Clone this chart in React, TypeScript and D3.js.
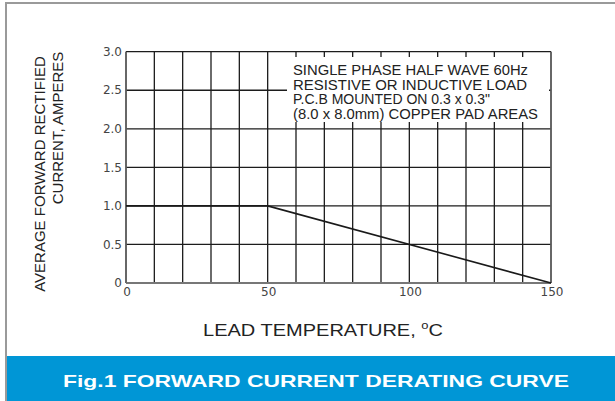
import React from 'react';
import * as d3 from 'd3';

const W = 615;
const H = 401;

// derating curve, lead temperature (°C) vs average forward current (A)
const temps = [0, 50, 150];
const current = [1.0, 1.0, 0];

const xTicks = [0, 50, 100, 150];
const yTicks = [0, 0.5, 1.0, 1.5, 2.0, 2.5, 3.0];
const yTickLabels = ['0', '0.5', '1.0', '1.5', '2.0', '2.5', '3.0'];
const xGrid = d3.range(0, 151, 10);

const noteLines = [
  'SINGLE PHASE HALF WAVE 60Hz',
  'RESISTIVE OR INDUCTIVE LOAD',
  'P.C.B MOUNTED ON 0.3 x 0.3"',
  '(8.0 x 8.0mm) COPPER PAD AREAS',
];
const noteWidths = [235, 234, 197, 245];

const App: React.FC = () => {
  const x = d3.scaleLinear().domain([0, 150]).range([126, 551]);
  const y = d3.scaleLinear().domain([0, 3]).range([283, 51.7]);

  const line = d3.line<number>()
    .x((_, i) => x(temps[i]))
    .y(d => y(d));

  const sans = '"Liberation Sans", Arial, Helvetica, sans-serif';
  const tickFont = '"DejaVu Sans", Verdana, sans-serif';

  return (
    <svg width={W} height={H} style={{ position: 'absolute', left: 0, top: 0, background: '#fff' }}>
      {/* frame */}
      <rect x={5} y={2} width={W - 5} height={2} fill="#9a9a9a" />
      <rect x={5} y={2} width={2} height={H - 2} fill="#9a9a9a" />

      {/* grid */}
      <g stroke="#1c1c1c" strokeWidth={1.3}>
        {xGrid.map(t => (
          <line key={'v' + t} x1={x(t)} x2={x(t)} y1={y(3)} y2={y(0)} />
        ))}
        {yTicks.filter(t => t > 0).map(t => (
          <line key={'h' + t} x1={x(0)} x2={x(150)} y1={y(t)} y2={y(t)} />
        ))}
      </g>
      {/* axes */}
      <line x1={x(0)} x2={x(150)} y1={y(0)} y2={y(0)} stroke="#777" strokeWidth={2} />
      <line x1={x(0)} x2={x(0)} y1={y(3)} y2={y(0)} stroke="#666" strokeWidth={1.5} />
      <line x1={x(150)} x2={x(150)} y1={y(3)} y2={y(0)} stroke="#666" strokeWidth={1.5} />

      {/* note box */}
      <rect x={287} y={57} width={262} height={65} fill="#fff" />
      {noteLines.map((s, i) => (
        <text key={s} x={293} y={75 + i * 14.5} fontFamily={sans} fontSize={14} fill="#222"
          textLength={noteWidths[i]} lengthAdjust="spacingAndGlyphs">{s}</text>
      ))}

      {/* curve */}
      <path d={line(current) || ''} fill="none" stroke="#1a1a1a" strokeWidth={1.6} />

      {/* tick labels */}
      {yTicks.map((t, i) => (
        <text key={'yl' + t} x={122} y={y(t)} dy="0.35em" textAnchor="end"
          fontFamily={tickFont} fontSize={12} fill="#444">{yTickLabels[i]}</text>
      ))}
      {xTicks.map(t => (
        <text key={'xl' + t} x={x(t) + 1} y={296} textAnchor="middle"
          fontFamily={tickFont} fontSize={12} fill="#444">{t}</text>
      ))}

      {/* axis titles */}
      <text x={203} y={336} fontFamily={sans} fontSize={17} fill="#222"
        textLength={240} lengthAdjust="spacingAndGlyphs">
        LEAD TEMPERATURE, <tspan dy={-7} fontSize={11}>o</tspan><tspan dy={7}>C</tspan>
      </text>
      <text transform="translate(45,174) rotate(-90)" textAnchor="middle" fontFamily={sans}
        fontSize={15} fill="#222">AVERAGE FORWARD RECTIFIED</text>
      <text transform="translate(63,128) rotate(-90)" textAnchor="middle" fontFamily={sans}
        fontSize={15} fill="#222">CURRENT, AMPERES</text>

      {/* caption */}
      <rect x={7} y={356} width={W - 7} height={H - 356} fill="#0096D6" />
      <text x={316} y={387} textAnchor="middle" fontFamily={sans} fontSize={16.5} fontWeight="bold"
        fill="#fff" textLength={506} lengthAdjust="spacingAndGlyphs">Fig.1 FORWARD CURRENT DERATING CURVE</text>
    </svg>
  );
};

export default App;
